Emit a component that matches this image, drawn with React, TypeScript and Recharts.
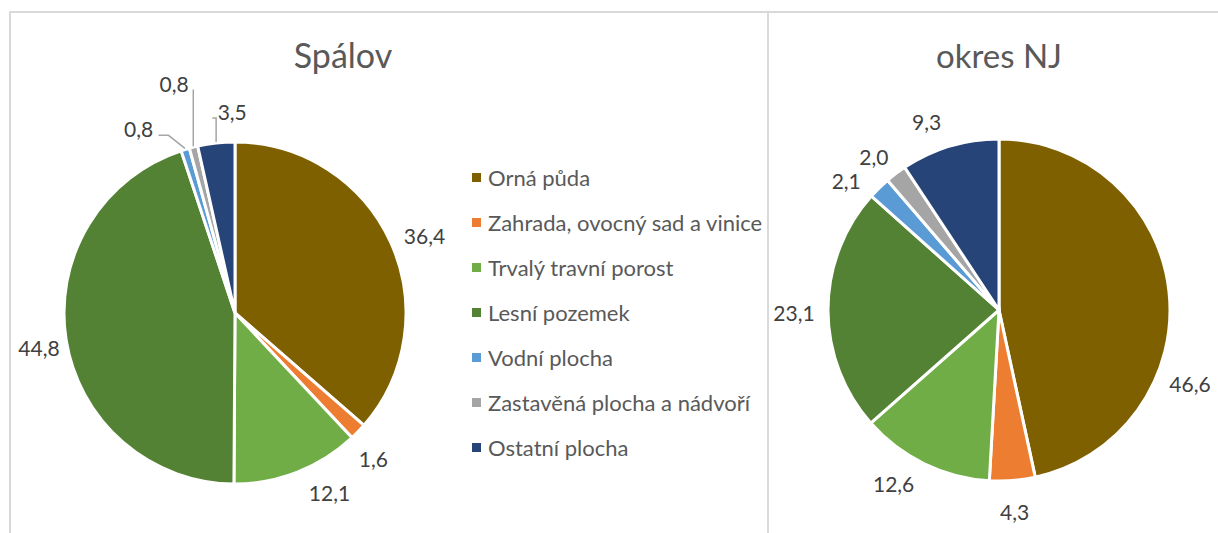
import { PieChart, Pie, Cell } from 'recharts'

const CATEGORIES = [
  'Orná půda',
  'Zahrada, ovocný sad a vinice',
  'Trvalý travní porost',
  'Lesní pozemek',
  'Vodní plocha',
  'Zastavěná plocha a nádvoří',
  'Ostatní plocha',
]
const SPALOV = [36.4, 1.6, 12.1, 44.8, 0.8, 0.8, 3.5]
const OKRES_NJ = [46.6, 4.3, 12.6, 23.1, 2.1, 2.0, 9.3]

const COLORS = ['#7F6000', '#ED7D31', '#70AD47', '#548235', '#5B9BD5', '#A5A5A5', '#264478']

// Excel "best fit" moved some labels: [angle shift deg, extra radius px]
const SPALOV_NUDGE = [[-2, 0], [-2, 0], [6, 0], [1, -6], [11, 7], [1, 36], [-5.5, 0]]
const OKRES_NUDGE = [[-27.5, 0], [0, 0], [-5, 0], [1, 0], [5.7, 0], [2.6, -3], [4.6, 0]]

const FONT = 'Lato, "Open Sans", sans-serif'
const RAD = Math.PI / 180

const toRows = (vals: number[]) => vals.map((v, i) => ({ name: CATEGORIES[i], value: v }))

function makeLabel(nudge: number[][]) {
  return (p: any) => {
    const { cx, cy, midAngle, outerRadius, value, index, percent } = p
    const text = Number(value).toFixed(1).replace('.', ',')
    const w = (text.length - 1) * 12.2 + 5.5
    const [da, dr] = nudge[index] || [0, 0]
    const a = (midAngle + da) * RAD
    const ux = Math.cos(a)
    const uy = -Math.sin(a)
    const r = outerRadius + 13 + dr
    const lx = cx + r * ux + (w / 2) * ux
    const ly = cy + r * uy + 18 * uy

    // slice edge point
    const ex = cx + (outerRadius + 1) * Math.cos(midAngle * RAD)
    const ey = cy - (outerRadius + 1) * Math.sin(midAngle * RAD)
    const x0 = lx - w / 2
    const x1 = lx + w / 2
    const y0 = ly - 11
    const y1 = ly + 11
    const ddx = ex < x0 ? x0 - ex : ex > x1 ? ex - x1 : 0
    const ddy = ey < y0 ? y0 - ey : ey > y1 ? ey - y1 : 0
    const dist = Math.hypot(ddx, ddy)

    let leader = null
    if (dist > 20 && percent < 0.05) {
      const tx = ex > x1 ? x1 + 5 : ex < x0 ? x0 - 5 : ex
      const ty = Math.min(Math.max(ey, ly - 2), ly + 7)
      const step = Math.min(10, Math.abs(ex - tx)) * Math.sign(ex - tx)
      leader = (
        <polyline
          points={`${tx},${ty} ${tx + step},${ty} ${ex},${ey}`}
          fill="none"
          stroke="#A6A6A6"
          strokeWidth={1.5}
        />
      )
    }

    return (
      <g key={`lbl-${index}`}>
        {leader}
        <text
          x={lx}
          y={ly}
          textAnchor="middle"
          dominantBaseline="central"
          fill="#404040"
          fontSize={21}
          fontFamily={FONT}
        >
          {text}
        </text>
      </g>
    )
  }
}

export default function App() {
  const spalov = toRows(SPALOV)
  const okres = toRows(OKRES_NJ)

  return (
    <div
      style={{
        position: 'absolute',
        left: 0,
        top: 0,
        width: 1218,
        height: 533,
        overflow: 'hidden',
        background: '#fff',
        fontFamily: FONT,
      }}
    >
      {/* chart area borders */}
      <div style={{ position: 'absolute', left: 9, top: 11, width: 756, height: 700, border: '2px solid #D9D9D9' }} />
      <div style={{ position: 'absolute', left: 767, top: 11, width: 700, height: 700, border: '2px solid #D9D9D9' }} />

      <svg width={1218} height={533} style={{ position: 'absolute', left: 0, top: 0 }}>
        <text x={343} y={68} textAnchor="middle" fontSize={34} fill="#595959" fontFamily={FONT}>
          Spálov
        </text>
        <text x={999} y={68} textAnchor="middle" fontSize={33} fill="#595959" fontFamily={FONT}>
          okres NJ
        </text>
      </svg>

      <div style={{ position: 'absolute', left: 0, top: 0 }}>
        <PieChart width={1218} height={533} margin={{ top: 0, right: 0, bottom: 0, left: 0 }}>
          <Pie
            data={spalov}
            dataKey="value"
            cx={235}
            cy={313}
            outerRadius={171}
            startAngle={90}
            endAngle={-270}
            stroke="#fff"
            strokeWidth={3}
            label={makeLabel(SPALOV_NUDGE)}
            labelLine={false}
            isAnimationActive={false}
          >
            {spalov.map((_, i) => (
              <Cell key={i} fill={COLORS[i]} />
            ))}
          </Pie>
          <Pie
            data={okres}
            dataKey="value"
            cx={999}
            cy={310}
            outerRadius={171}
            startAngle={90}
            endAngle={-270}
            stroke="#fff"
            strokeWidth={3}
            label={makeLabel(OKRES_NUDGE)}
            labelLine={false}
            isAnimationActive={false}
          >
            {okres.map((_, i) => (
              <Cell key={i} fill={COLORS[i]} />
            ))}
          </Pie>
        </PieChart>
      </div>

      {/* legend */}
      {CATEGORIES.map((c, i) => (
        <div
          key={c}
          style={{
            position: 'absolute',
            left: 472,
            top: 177 + 45 * i - 14,
            height: 28,
            display: 'flex',
            alignItems: 'center',
            whiteSpace: 'nowrap',
            color: '#595959',
            fontSize: 22,
          }}
        >
          <span style={{ display: 'inline-block', width: 9, height: 9, background: COLORS[i], marginRight: 7 }} />
          {c}
        </div>
      ))}
    </div>
  )
}
